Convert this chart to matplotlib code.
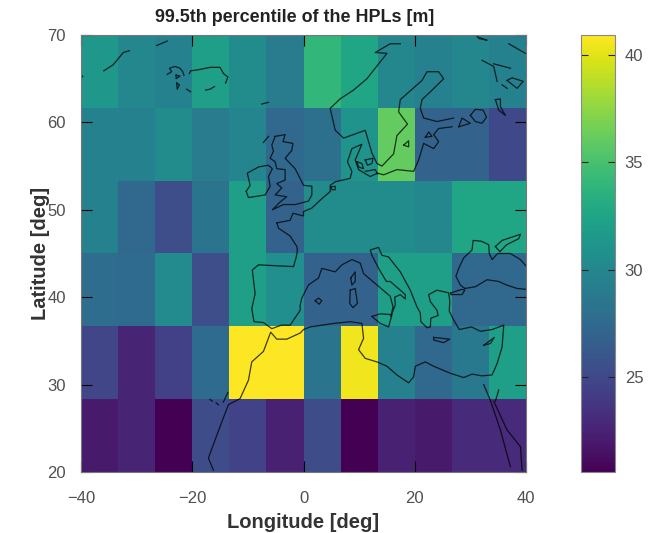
import numpy as np
import matplotlib
matplotlib.use("Agg")
import matplotlib.pyplot as plt

plt.rcParams['font.family'] = ['Liberation Sans', 'DejaVu Sans']

# grid cell edges of the map
lon_edges = np.linspace(-40, 40, 13)
lat_edges = np.linspace(20, 70, 7)

# HPL values per cell, south to north
hpl_20_28 = [22.0, 22.6, 20.6, 25.2, 24.6, 22.4, 25.2, 20.6, 22.4, 22.0, 23.0, 23.0]
hpl_28_37 = [24.8, 22.6, 24.4, 27.6, 40.9, 40.9, 28.4, 40.5, 29.4, 27.4, 28.8, 32.0]
hpl_37_45 = [27.8, 27.6, 30.2, 25.4, 32.0, 30.6, 27.0, 27.0, 32.0, 32.0, 27.4, 27.4]
hpl_45_53 = [29.4, 27.4, 25.4, 28.4, 32.0, 27.0, 30.4, 30.4, 30.4, 30.0, 32.6, 32.6]
hpl_53_62 = [29.4, 29.4, 30.4, 29.0, 29.8, 27.4, 28.0, 31.0, 36.0, 27.0, 27.0, 25.0]
hpl_62_70 = [31.4, 30.0, 29.4, 32.0, 30.4, 29.0, 34.0, 32.6, 30.0, 29.4, 30.0, 29.4]

# coastlines as (lon, lat) polylines
coast_lon = [
    [-35.9, -34.2, -33.3, -32.4, -31.3],
    [-26.4, -24.5],
    [-40.0, -39.7],
    [-7.5, -6.3],
    [-24.5, -23.7, -24.1, -23.1, -22.2, -21.7, -21.5],
    [-20.5, -20.3, -19.2, -18.3, -16.8, -15.0, -14.4, -13.6, -14.0],
    [-17.6, -16.8, -16.0],
    [-21.0, -20.3],
    [-22.9, -22.2, -22.9, -22.9],
    [-22.8, -22.3, -22.7, -22.8],
    # Ireland, Skye, Britain
    [-10.3, -9.6, -10.1, -8.1, -6.3, -5.6, -6.3, -6.0, -6.9, -9.9, -10.3],
    [-7.2, -6.3],
    [-5.1, -5.7, -5.4, -6.0, -5.1, -4.8, -3.3, -3.3, -4.8, -3.9, -5.1, -3.0, -4.2, -5.6, -3.6, -1.5, 0.9, 1.5, 1.5, 0.0, -1.5,
     -3.3, -2.1, -1.9, -3.7, -3.3, -5.1],
    # Biscay, Iberia, Italy, Balkans, Turkey, Levant, north Africa
    [-4.8, -4.5, -2.4, -1.2, -1.1, -1.3, -1.8, -8.1, -9.2, -8.7, -9.3, -8.9, -7.2, -5.7, -4.0, -2.4, -0.6,
     -0.6, -0.3, 0.9, 2.7, 3.3, 5.7, 6.9, 8.7, 10.2, 10.8, 13.2, 15.6, 16.1, 15.7, 16.5, 16.4, 17.4, 18.3, 18.3, 15.6, 14.9,
     13.5, 12.3, 12.0, 13.5, 14.1, 15.3, 17.4, 19.2, 20.4, 21.0, 21.1, 22.2, 22.8, 22.9, 24.2, 24.0, 22.8, 22.5, 24.0, 26.1,
     26.3, 26.2, 27.0, 28.0, 30.2, 31.8, 33.9, 36.0, 35.7, 34.8, 33.9, 32.1, 30.3, 28.8, 26.4, 23.4, 21.9, 20.1, 19.8, 18.9,
     16.8, 15.0, 13.2, 11.1, 9.9, 10.8, 10.5, 8.4, 5.4, 1.2, 0.0, -0.6, -3.0, -4.8, -5.9, -7.2, -9.3, -9.9, -11.4, -13.5,
     -15.0, -17.1, -16.2],
    # Channel to Baltic
    [-4.8, -2.4, -1.9, 0.0, 0.0, 1.5, 3.0, 4.8, 4.8, 5.7, 8.4, 8.7, 7.9, 8.7, 10.5, 9.3, 9.9, 12.0, 13.3, 14.4, 16.8,
     19.8, 20.7, 21.6, 23.4, 24.3, 23.4, 24.3, 26.7],
    [4.9, 5.7, 5.7, 5.1, 4.9],
    [27.0, 24.0, 21.6, 21.0, 21.3, 22.8, 25.2, 24.3, 22.2, 21.3, 17.4, 17.1, 18.7, 16.8, 16.2, 14.1, 13.2, 12.3, 11.1, 7.2,
     5.7, 4.8, 6.6, 9.0, 11.4, 15.0, 12.9, 15.6, 17.4],
    [11.1, 12.5, 12.3, 11.5, 11.1],
    [9.6, 10.5, 10.8, 9.9, 9.6],
    [11.1, 12.9, 13.3],
    [18.0, 18.9, 18.9, 18.0],
    [21.9, 22.5, 23.1, 21.9],
    [27.9, 28.5, 30.0, 27.9],
    [30.0, 30.9, 32.3, 32.9, 32.1, 30.9, 30.0],
    [32.1, 34.2, 34.8],
    [34.2, 37.2],
    [36.6, 37.5, 39.5, 38.4, 36.6],
    [35.7, 36.6],
    [34.5, 35.4, 35.4, 36.3, 35.1, 34.5],
    [36.9, 39.9],
    [31.2, 33.0, 31.5],
    # Azov, Black Sea, Marmara
    [34.5, 35.7, 39.0, 38.7, 36.5, 35.3, 34.5],
    [29.0, 28.2, 27.4, 27.9, 28.8, 30.3, 30.5, 32.0, 33.3, 33.4, 33.9, 34.9, 37.2, 39.0, 40.1],
    [29.0, 30.9, 33.0, 35.1, 36.5, 38.4, 40.0],
    [26.5, 28.5, 29.0, 28.5, 26.5, 26.5],
    # Mediterranean islands
    [8.5, 9.3, 9.3, 8.7, 8.5],
    [8.4, 9.3, 9.7, 8.9, 8.3, 8.4],
    [2.1, 2.7, 3.3, 2.8, 2.1],
    [12.3, 13.8, 15.9, 15.3, 13.8, 12.3],
    [23.4, 26.3, 25.2, 23.4, 23.4],
    [32.4, 34.3, 33.6, 32.4],
    # Red Sea
    [32.4, 33.6, 35.4, 37.2],
    [34.5, 35.1],
    [34.2, 36.6, 39.0, 39.3],
    # Canaries
    [-16.8, -16.4],
    [-15.7, -15.3],
    [-14.4, -13.6],
]
coast_lat = [
    [65.9, 66.6, 67.3, 68.0, 68.2],
    [68.8, 69.3],
    [65.0, 65.3],
    [62.1, 62.3],
    [65.5, 65.8, 66.2, 66.4, 66.2, 65.8, 65.4],
    [65.6, 65.9, 66.0, 66.1, 66.3, 66.3, 65.6, 65.2, 64.5],
    [63.7, 63.8, 64.1],
    [63.8, 63.5],
    [65.4, 65.3, 65.0, 65.4],
    [64.5, 64.3, 63.8, 64.5],
    [52.1, 52.8, 54.2, 54.9, 55.1, 54.7, 53.8, 52.7, 51.7, 51.4, 52.1],
    [57.7, 58.4],
    [58.4, 57.4, 56.7, 55.9, 55.5, 54.7, 54.6, 53.4, 53.0, 52.5, 51.7, 51.5, 50.9, 50.0, 50.6, 50.6, 51.0, 51.7, 52.7, 52.8, 54.7,
     55.9, 56.8, 57.6, 57.8, 58.6, 58.4],
    [48.5, 47.9, 47.0, 45.8, 45.4, 44.6, 43.5, 43.7, 43.1, 40.4, 38.7, 37.2, 37.1, 36.4, 36.8, 36.8, 38.5,
     39.1, 39.9, 41.4, 42.2, 43.3, 42.9, 43.7, 44.3, 43.9, 42.7, 41.4, 40.1, 38.9, 37.8, 39.1, 40.0, 40.3, 39.8, 40.3, 41.8, 41.8,
     43.3, 44.8, 45.4, 45.7, 44.8, 44.6, 42.9, 40.8, 38.9, 38.2, 37.2, 36.5, 36.6, 37.6, 37.9, 38.5, 39.5, 40.3, 40.8, 40.5,
     39.5, 38.4, 37.4, 36.3, 36.6, 36.1, 36.3, 36.8, 34.3, 32.4, 31.1, 31.0, 31.2, 30.8, 31.3, 32.1, 32.6, 32.1, 30.9, 30.2,
     31.1, 32.1, 32.6, 33.0, 34.0, 35.3, 37.0, 37.2, 37.0, 36.6, 36.3, 35.9, 35.2, 35.2, 36.0, 33.8, 32.6, 30.5, 28.4, 27.7,
     25.2, 21.6, 20.2],
    [48.5, 48.8, 49.6, 49.3, 49.8, 50.2, 51.1, 52.1, 52.8, 53.2, 53.6, 54.4, 55.5, 57.0, 57.5, 55.7, 54.6, 53.8, 54.2, 54.0, 54.6,
     54.4, 55.7, 57.6, 57.0, 57.8, 58.6, 59.3, 59.5],
    [52.6, 52.7, 52.3, 52.3, 52.6],
    [60.5, 60.1, 60.5, 61.6, 62.6, 63.5, 65.0, 65.8, 65.8, 64.8, 62.6, 61.2, 59.8, 58.5, 56.4, 55.0, 55.3, 56.5, 59.1, 58.2,
     59.1, 61.6, 62.7, 63.7, 65.0, 67.9, 68.0, 69.0, 69.0],
    [55.7, 55.9, 55.3, 55.1, 55.7],
    [55.5, 55.3, 54.7, 54.9, 55.5],
    [54.4, 54.6, 54.1],
    [57.4, 57.9, 57.2, 57.4],
    [58.3, 58.9, 58.4, 58.3],
    [59.5, 60.5, 59.9, 59.5],
    [60.8, 61.5, 61.4, 60.6, 59.9, 60.1, 60.8],
    [67.1, 66.4, 64.7],
    [66.7, 66.2],
    [64.8, 65.1, 64.7, 63.9, 64.8],
    [64.3, 63.9],
    [62.6, 62.7, 61.8, 60.8, 61.4, 62.6],
    [69.0, 67.9],
    [69.8, 69.4, 69.6],
    [45.8, 46.5, 47.2, 46.7, 46.0, 45.2, 45.8],
    [41.0, 41.4, 42.4, 43.3, 44.5, 45.4, 46.5, 46.4, 46.0, 45.0, 44.3, 45.0, 45.0, 44.3, 43.5],
    [41.0, 41.2, 42.0, 41.8, 41.4, 41.0, 40.9],
    [40.5, 40.9, 40.8, 40.3, 40.3, 40.5],
    [42.2, 42.9, 41.8, 41.4, 42.2],
    [40.8, 41.0, 39.3, 38.8, 39.3, 40.8],
    [39.6, 39.9, 39.6, 39.2, 39.6],
    [37.8, 38.1, 38.0, 36.6, 37.0, 37.8],
    [35.4, 35.2, 34.8, 35.1, 35.4],
    [34.5, 35.4, 34.7, 34.5],
    [30.0, 28.2, 24.8, 20.6],
    [28.1, 29.4],
    [28.1, 24.8, 22.9, 20.2],
    [28.3, 28.1],
    [27.9, 27.7],
    [28.0, 29.1],
]

title = "99.5th percentile of the HPLs [m]"
x_label = "Longitude [deg]"
y_label = "Latitude [deg]"
x_ticks = [-40, -20, 0, 20, 40]
x_tick_labels = ["\u221240", "\u221220", "0", "20", "40"]
y_ticks = [20, 30, 40, 50, 60, 70]
cbar_ticks = [25, 30, 35, 40]

hpl = np.array([hpl_20_28, hpl_28_37, hpl_37_45, hpl_45_53, hpl_53_62, hpl_62_70])

fig = plt.figure(figsize=(6.54, 5.33), dpi=100)
W, H = 654.0, 533.0
ax = fig.add_axes([81 / W, 1 - 472 / H, 445 / W, 437 / H])
cax = fig.add_axes([581 / W, 1 - 472 / H, 34 / W, 437 / H])

mesh = ax.pcolormesh(lon_edges, lat_edges, hpl, cmap="viridis", vmin=20.57, vmax=40.93)

for lons, lats in zip(coast_lon, coast_lat):
    ax.plot(lons, lats, color="black", linewidth=0.9, alpha=0.75, solid_joinstyle="round")

ax.set_xlim(-40, 40)
ax.set_ylim(20, 70)
ax.set_xticks(x_ticks)
ax.set_xticklabels(x_tick_labels)
ax.set_yticks(y_ticks)
ax.tick_params(direction="in", length=8, width=0.8, top=True, right=True,
               labelsize=12, labelcolor="#505050", color="black")
ax.tick_params(axis="x", pad=13.5)
ax.tick_params(axis="y", pad=11)
for spine in ax.spines.values():
    spine.set_color("#777777")
    spine.set_linewidth(0.8)

fig.text(295 / W, 1 - 18 / H, title, ha="center", va="center", fontsize=12.9, fontweight="bold", color="#222222")
fig.text(303 / W, 1 - 528 / H, x_label, ha="center", va="baseline", fontsize=14.5, fontweight="bold", color="#333333")
fig.text(41 / W, 1 - 253 / H, y_label, ha="center", va="center", rotation=90, fontsize=14.5, fontweight="bold", color="#333333")

cbar = fig.colorbar(mesh, cax=cax)
cbar.set_ticks(cbar_ticks)
cbar.ax.tick_params(direction="in", length=5, width=0.8, left=True, right=True,
                    labelsize=12, labelcolor="#505050", color="#222222", pad=7)
cbar.outline.set_edgecolor("#888888")
cbar.outline.set_linewidth(0.8)

fig.savefig("out.png", dpi=100)
